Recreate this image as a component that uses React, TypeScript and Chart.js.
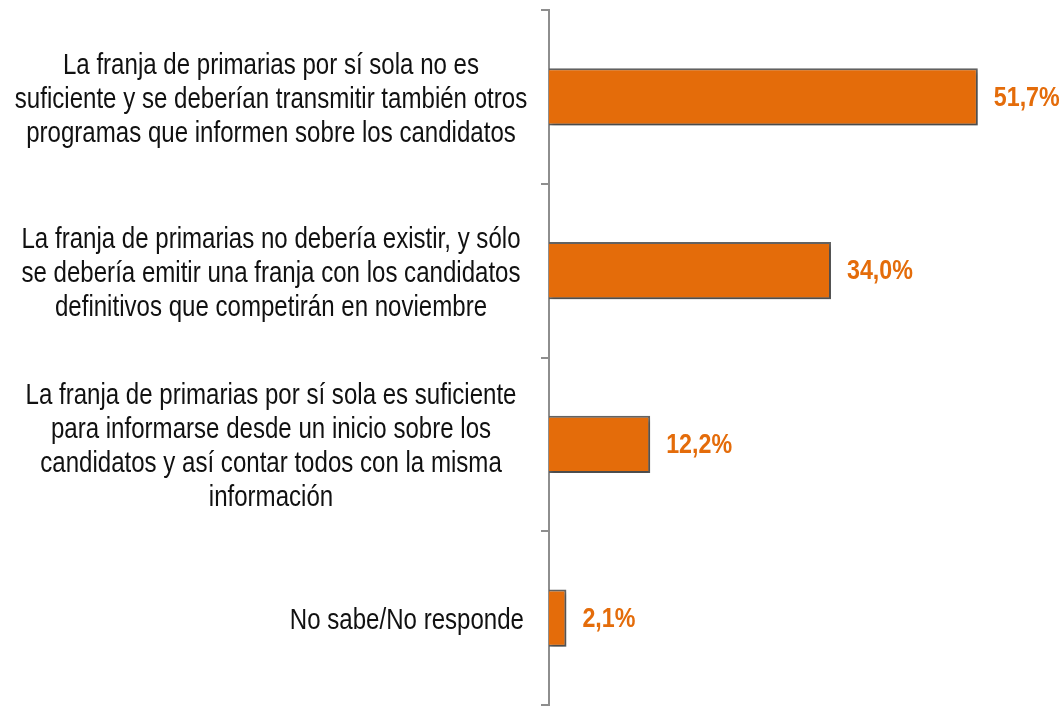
import React, { useEffect, useRef } from "react";
import { Chart, registerables } from "chart.js";

Chart.register(...registerables);

const categories: string[][] = [
  [
    "La franja de primarias por sí sola no es",
    "suficiente y se deberían transmitir también otros",
    "programas que informen sobre los candidatos",
  ],
  [
    "La franja de primarias no debería existir, y sólo",
    "se debería emitir una franja con los candidatos",
    "definitivos que competirán en noviembre",
  ],
  [
    "La franja de primarias por sí sola es suficiente",
    "para informarse desde un inicio sobre los",
    "candidatos y así contar todos con la misma",
    "información",
  ],
  ["No sabe/No responde"],
];

const values: number[] = [51.7, 34.0, 12.2, 2.1];

const BAR_COLOR = "#E46C0A";
const BAR_BORDER = "#636363";
const AXIS_COLOR = "#8E8E8E";
const TEXT_COLOR = "#111111";

function hasFont(name: string): boolean {
  const c = document.createElement("canvas").getContext("2d");
  if (!c) return false;
  const t = "No sabe/No responde 51,7%";
  c.font = "29px monospace";
  const a = c.measureText(t).width;
  c.font = `29px "${name}", monospace`;
  const b = c.measureText(t).width;
  return Math.abs(a - b) > 0.5;
}

export default function App() {
  const ref = useRef<HTMLCanvasElement | null>(null);

  useEffect(() => {
    if (!ref.current) return;
    const narrow = hasFont("Liberation Sans Narrow");
    const family = narrow ? '"Liberation Sans Narrow"' : '"Liberation Sans", Arial';
    const sx = narrow ? 1.015 : 0.83;

    const drawText = (
      ctx: CanvasRenderingContext2D,
      text: string,
      x: number,
      y: number,
      align: CanvasTextAlign,
      scaleX: number
    ) => {
      ctx.save();
      ctx.translate(x, y);
      ctx.scale(scaleX, 1);
      ctx.textAlign = align;
      ctx.textBaseline = "middle";
      ctx.fillText(text, 0, 0);
      ctx.restore();
    };

    const shadowPlugin = {
      id: "barShadow",
      beforeDatasetsDraw(chart: any) {
        const ctx = chart.ctx;
        ctx.save();
        ctx.shadowColor = "rgba(0,0,0,0.28)";
        ctx.shadowOffsetX = 2;
        ctx.shadowOffsetY = 3;
        ctx.shadowBlur = 4;
      },
      afterDatasetsDraw(chart: any) {
        chart.ctx.restore();
      },
    };

    const labelPlugin = {
      id: "customLabels",
      afterDraw(chart: any) {
        const ctx: CanvasRenderingContext2D = chart.ctx;
        const yScale = chart.scales.y;
        const meta = chart.getDatasetMeta(0);
        const lineH = 34;
        const centerX = 271;
        const rightX = yScale.right - 25;
        ctx.save();
        ctx.fillStyle = TEXT_COLOR;
        ctx.font = `29px ${family}`;
        categories.forEach((lines, i) => {
          const cy = yScale.getPixelForValue(i) + 3;
          const start = cy - ((lines.length - 1) * lineH) / 2;
          lines.forEach((ln, j) => {
            if (lines.length === 1) {
              drawText(ctx, ln, rightX, start + j * lineH, "right", sx);
            } else {
              drawText(ctx, ln, centerX, start + j * lineH, "center", sx);
            }
          });
        });
        ctx.fillStyle = BAR_COLOR;
        ctx.font = `bold 28px ${family}`;
        meta.data.forEach((bar: any, i: number) => {
          const txt = values[i].toFixed(1).replace(".", ",") + "%";
          drawText(ctx, txt, bar.x + 16, bar.y + 1, "left", narrow ? 1 : 0.83);
        });
        ctx.restore();
      },
    };

    const chart = new Chart(ref.current, {
      type: "bar",
      data: {
        labels: categories.map((c) => c.join(" ")),
        datasets: [
          {
            data: values,
            backgroundColor: BAR_COLOR,
            borderColor: BAR_BORDER,
            borderWidth: 2,
            borderSkipped: "start",
            categoryPercentage: 1,
            barPercentage: 0.33,
          },
        ],
      },
      options: {
        indexAxis: "y",
        responsive: false,
        animation: false,
        events: [],
        layout: { padding: { top: 10, bottom: 1, right: 18, left: 0 } },
        plugins: {
          legend: { display: false },
          tooltip: { enabled: false },
        },
        scales: {
          x: {
            display: false,
            min: 0,
            max: 59.8,
          },
          y: {
            position: "left",
            grid: {
              display: true,
              offset: true,
              drawOnChartArea: false,
              drawTicks: true,
              tickLength: 8,
              color: AXIS_COLOR,
              lineWidth: 2,
            },
            border: { display: true, color: AXIS_COLOR, width: 2 },
            ticks: { display: false },
            afterFit(scale: any) {
              scale.width = 549;
            },
          },
        },
      },
      plugins: [shadowPlugin, labelPlugin],
    });
    return () => chart.destroy();
  }, []);

  return (
    <div style={{ position: "absolute", left: 0, top: 0, width: 1063, height: 706, background: "#fff" }}>
      <canvas ref={ref} width={1063} height={706} />
    </div>
  );
}
